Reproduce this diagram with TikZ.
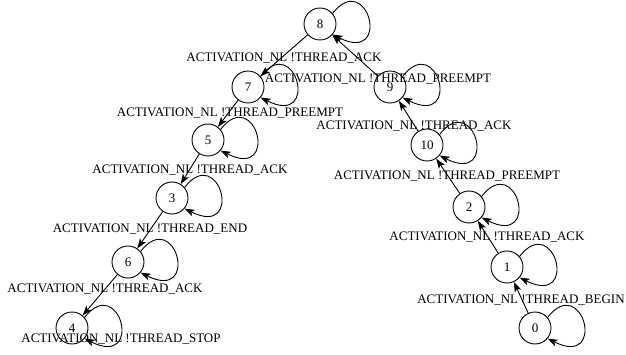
\documentclass[tikz,border=0pt]{standalone}
\usepackage{fontspec}
\setmainfont{Liberation Serif}
\usetikzlibrary{arrows.meta}
\begin{document}
\begin{tikzpicture}[x=1pt,y=-1pt,
  state/.style={draw, circle, minimum size=32pt, inner sep=0pt, font=\fontsize{13}{15}\selectfont, line width=0.9pt},
  lab/.style={anchor=base, inner sep=0pt, font=\fontsize{13}{15}\selectfont},
  tr/.style={-{Stealth[length=10pt,width=7pt,inset=2.5pt]}, line width=0.9pt}]
\useasboundingbox (0,0) rectangle (626,355);
% states
\node[state] (n8)  at (320,24)  {8};
\node[state] (n7)  at (248,87)  {7};
\node[state] (n9)  at (390,87)  {9};
\node[state] (n5)  at (208,140) {5};
\node[state] (n10) at (427,145) {10};
\node[state] (n3)  at (172,198) {3};
\node[state] (n2)  at (469,207) {2};
\node[state] (n6)  at (128,262) {6};
\node[state] (n1)  at (507,267) {1};
\node[state] (n4)  at (72,328)  {4};
\node[state] (n0)  at (535,328) {0};
% transitions
\draw[tr] (n8) -- (n7);
\draw[tr] (n7) -- (n5);
\draw[tr] (n5) -- (n3);
\draw[tr] (n3) -- (n6);
\draw[tr] (n6) -- (n4);
\draw[tr] (n0) -- (n1);
\draw[tr] (n1) -- (n2);
\draw[tr] (n2) -- (n10);
\draw[tr] (n10) -- (n9);
\draw[tr] (n9) -- (n8);
% self loops
\foreach \n in {n8,n7,n9,n5,n10,n3,n2,n6,n1,n4,n0}{
  \draw[tr] (\n.40) .. controls +(35,-45) and +(60,30) .. (\n.-40);
}
% labels
\node[lab] (l1)  at (284,61.5) {ACTIVATION\_NL !THREAD\_ACK};
\node[lab] (l2)  at (378,82.5) {ACTIVATION\_NL !THREAD\_PREEMPT};
\node[lab] (l3)  at (230,117)  {ACTIVATION\_NL !THREAD\_PREEMPT};
\node[lab] (l4)  at (414,129.5){ACTIVATION\_NL !THREAD\_ACK};
\node[lab] (l5)  at (190,174)  {ACTIVATION\_NL !THREAD\_ACK};
\node[lab] (l6)  at (447,179.5){ACTIVATION\_NL !THREAD\_PREEMPT};
\node[lab] (l7)  at (150,233)  {ACTIVATION\_NL !THREAD\_END};
\node[lab] (l8)  at (487,241)  {ACTIVATION\_NL !THREAD\_ACK};
\node[lab] (l9)  at (105,292)  {ACTIVATION\_NL !THREAD\_ACK};
\node[lab] (l10) at (521,303)  {ACTIVATION\_NL !THREAD\_BEGIN};
\node[lab] (l11) at (121,342)  {ACTIVATION\_NL !THREAD\_STOP};
\end{tikzpicture}
\end{document}
